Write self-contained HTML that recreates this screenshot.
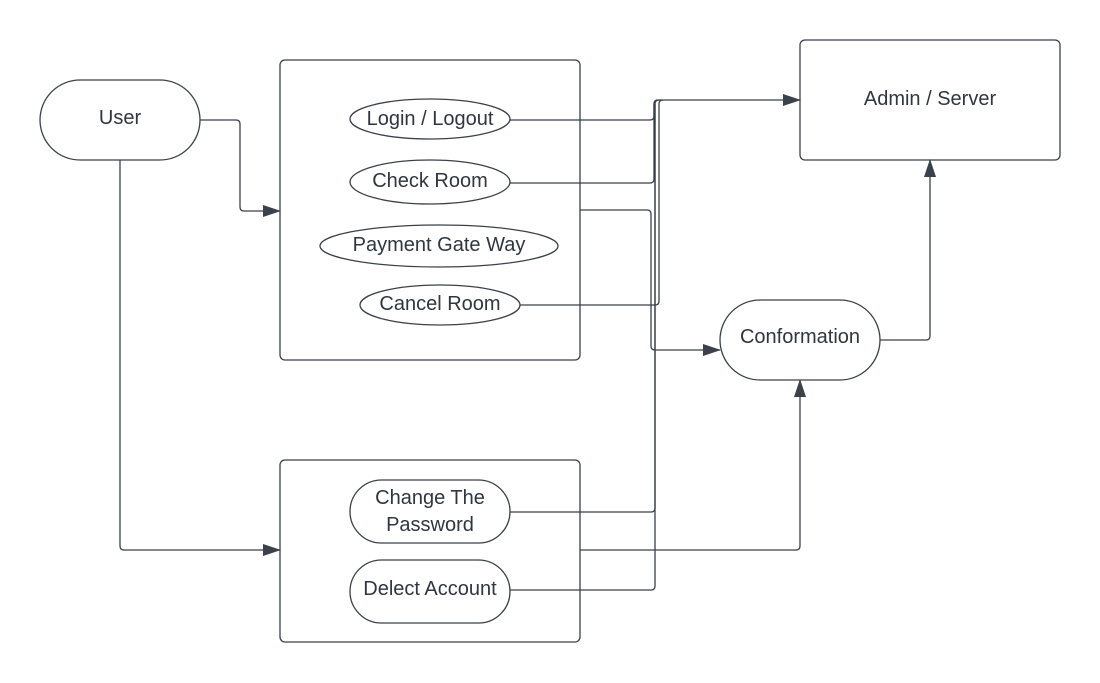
<!DOCTYPE html>
<html><head><meta charset="utf-8"><style>
html,body{margin:0;padding:0;background:#fff;}
svg{display:block;}
text{font-family:"Liberation Sans",sans-serif;font-size:20px;fill:#2f3640;text-anchor:middle;dominant-baseline:central;}
</style></head><body>
<svg width="1100" height="683" viewBox="0 0 1100 683" xmlns="http://www.w3.org/2000/svg">
<defs>
<marker id="a" markerWidth="18" markerHeight="12" refX="17" refY="6" orient="auto" markerUnits="userSpaceOnUse">
<path d="M0,0 L18,6 L0,12 Z" fill="#3a414a"/></marker>
</defs>
<g fill="none" stroke="#3a414a" stroke-width="1.3">
<rect x="40" y="80" width="160" height="80" rx="40"/>
<rect x="280" y="60" width="300" height="300" rx="5"/>
<rect x="280" y="460" width="300" height="182" rx="5"/>
<rect x="800" y="40" width="260" height="120" rx="5"/>
<rect x="720" y="300" width="160" height="80" rx="40"/>
<ellipse cx="430" cy="119" rx="80" ry="20"/>
<ellipse cx="430" cy="182" rx="80" ry="22"/>
<ellipse cx="439" cy="246" rx="119" ry="21"/>
<ellipse cx="440" cy="305" rx="80" ry="20"/>
<rect x="350" y="480" width="160" height="63" rx="31.5"/>
<rect x="350" y="560" width="160" height="63" rx="31.5"/>
<path d="M200,120 H236 Q240,120 240,124 V207 Q240,211 244,211 H280" marker-end="url(#a)"/>
<path d="M120,160 V546 Q120,550 124,550 H280" marker-end="url(#a)"/>
<path d="M510,120 H650 Q654,120 654,116 V104 Q654,100 658,100 H800" marker-end="url(#a)"/>
<path d="M510,183 H650 Q654,183 654,179 V104 Q654,100 658,100"/>
<path d="M520,305 H655 Q659,305 659,301 V104 Q659,100 663,100"/>
<path d="M510,512 H651 Q655,512 655,508 V104 Q655,100 659,100"/>
<path d="M510,590 H651 Q655,590 655,586 V104"/>
<path d="M580,210 H647 Q651,210 651,214 V346 Q651,350 655,350 H720" marker-end="url(#a)"/>
<path d="M580,550 H796 Q800,550 800,546 V380" marker-end="url(#a)"/>
<path d="M880,340 H926 Q930,340 930,336 V160" marker-end="url(#a)"/>
</g>
<text x="120" y="118">User</text>
<text x="430" y="119">Login / Logout</text>
<text x="430" y="181">Check Room</text>
<text x="439" y="245">Payment Gate Way</text>
<text x="440" y="304">Cancel Room</text>
<text x="430" y="498">Change The</text>
<text x="430" y="525">Password</text>
<text x="430" y="589">Delect Account</text>
<text x="930" y="99">Admin / Server</text>
<text x="800" y="337">Conformation</text>
</svg>
</body></html>
